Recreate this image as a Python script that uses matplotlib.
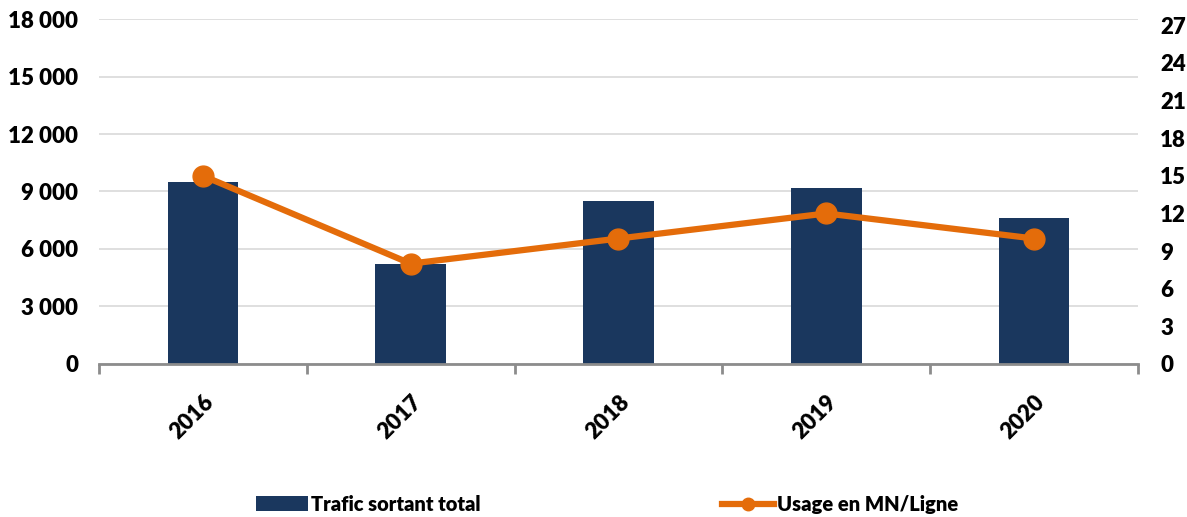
import numpy as np
import matplotlib.pyplot as plt
from matplotlib.ticker import FuncFormatter, FixedLocator
from matplotlib.lines import Line2D
from matplotlib.patches import Patch

years = ['2016', '2017', '2018', '2019', '2020']
trafic_sortant = [9500, 5200, 8500, 9200, 7600]
usage_mn_ligne = [15, 8, 10, 12, 10]

NAVY = '#1A375E'
ORANGE = '#E46C0A'
GRID = '#D9D9D9'
AXIS = '#8C8C8C'

plt.rcParams['font.family'] = ['Lato', 'DejaVu Sans']
plt.rcParams['font.weight'] = 'heavy'

fig = plt.figure(figsize=(11.87, 5.17), dpi=100)
ax = fig.add_axes([0.0834, 0.296, 0.8753, 0.6672])
x = np.arange(len(years))

ax.bar(x, trafic_sortant, width=0.34, color=NAVY, zorder=2)
ax.set_xlim(-0.5, len(years) - 0.5)
ax.set_ylim(0, 18000)
ax.set_yticks(np.arange(0, 18001, 3000))
ax.yaxis.set_major_formatter(FuncFormatter(lambda v, p: f'{int(v):,}'.replace(',', ' ')))
ax.grid(axis='y', color=GRID, linewidth=1.2, zorder=0)
ax.set_axisbelow(True)

for side in ['left', 'right', 'top']:
    ax.spines[side].set_visible(False)
ax.spines['bottom'].set_color(AXIS)
ax.spines['bottom'].set_linewidth(2)

ax.set_xticks(x)
ax.set_xticklabels(years, rotation=45, ha='right', rotation_mode='anchor',
                   fontsize=16, fontweight='heavy')
ax.tick_params(axis='x', which='major', length=0, pad=20)
ax.xaxis.set_minor_locator(FixedLocator(np.arange(-0.5, len(years), 1.0)))
ax.tick_params(axis='x', which='minor', length=7, width=2, color=AXIS)
ax.tick_params(axis='y', length=0, pad=15, labelsize=16)

ax2 = ax.twinx()
ax2.plot(x, usage_mn_ligne, color=ORANGE, linewidth=4.5, marker='o',
         markersize=15, zorder=3)
ax2.set_ylim(0, 27.5)
ax2.set_yticks(np.arange(0, 28, 3))
for side in ['left', 'right', 'top', 'bottom']:
    ax2.spines[side].set_visible(False)
ax2.tick_params(axis='y', length=0, pad=16, labelsize=16)

handles = [Patch(facecolor=NAVY, edgecolor='none'),
           Line2D([0], [0], color=ORANGE, linewidth=4.5, marker='o', markersize=9)]
fig.legend(handles, ['Trafic sortant total', 'Usage en MN/Ligne'],
           loc='center left', bbox_to_anchor=(0.2, 0.025), ncol=2,
           frameon=False, handlelength=2.6, handletextpad=0.15,
           columnspacing=12.0, prop={'weight': 'heavy', 'size': 14.5})

fig.savefig('out.png', dpi=100)
